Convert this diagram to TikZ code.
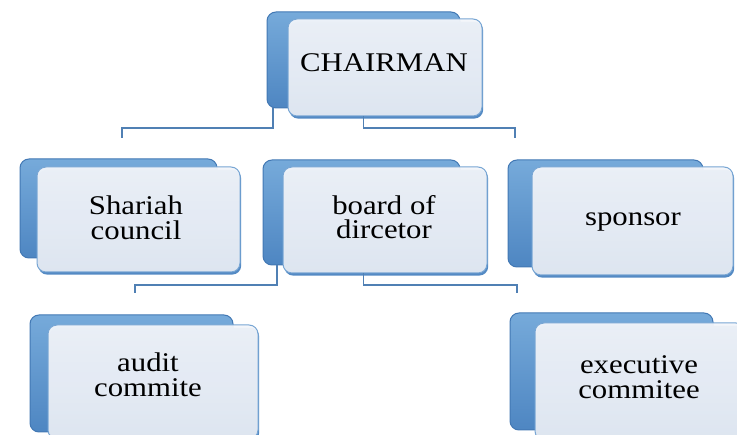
\documentclass[tikz,border=0pt]{standalone}
\usepackage{fontspec}
\setmainfont{Liberation Serif}[FakeStretch=1.14]
\usetikzlibrary{shadows}
\definecolor{backtop}{RGB}{118,170,218}
\definecolor{backbot}{RGB}{78,134,194}
\definecolor{backdraw}{RGB}{66,120,180}
\definecolor{fronttop}{RGB}{244,246,250}
\definecolor{frontbot}{RGB}{230,235,243}
\definecolor{frontdraw}{RGB}{120,166,212}
\definecolor{frontedge}{RGB}{84,138,196}
\definecolor{connc}{RGB}{80,128,180}
\tikzset{
  backbox/.style={rectangle, rounded corners=9pt, inner sep=0pt, outer sep=0pt,
    top color=backtop, bottom color=backbot, draw=backdraw, line width=1pt},
  frontbox/.style={rectangle, rounded corners=9pt, inner sep=0pt, outer sep=0pt,
    top color=fronttop, bottom color=frontbot, draw=frontdraw, line width=1pt,
    fill opacity=0.94,
    drop shadow={shadow xshift=1.2pt, shadow yshift=-2.6pt, fill=frontedge, opacity=1}},
  lbl/.style={inner sep=0pt, align=center, text=black,
    font=\fontsize{27}{24.5}\selectfont},
  conn/.style={draw=connc, line width=1.2pt}
}
\begin{document}
\begin{tikzpicture}[x=1pt,y=-1pt]
\useasboundingbox (0,0) rectangle (737,435);
\fill[white] (0,0) rectangle (737,435);
\clip (0,0) rectangle (737,435);
% CHAIRMAN
\node[backbox, minimum width=193pt, minimum height=96pt] (chB) at (363.5,60) {};
\node[frontbox, minimum width=194pt, minimum height=97pt] (chF) at (385,67.5) {};
\node[lbl] (chT) at (384,63) {CHAIRMAN};
% Shariah council
\node[backbox, minimum width=197pt, minimum height=99pt] (shB) at (118.5,208.5) {};
\node[frontbox, minimum width=203pt, minimum height=105pt] (shF) at (138.5,219.5) {};
\node[lbl] (shT) at (136,218) {Shariah\\council};
% board of dircetor
\node[backbox, minimum width=197pt, minimum height=105pt] (boB) at (361.5,212.5) {};
\node[frontbox, minimum width=204pt, minimum height=106pt] (boF) at (385,220) {};
\node[lbl] (boT) at (384,217) {board of\\dircetor};
% sponsor
\node[backbox, minimum width=195pt, minimum height=107pt] (spB) at (605.5,213.5) {};
\node[frontbox, minimum width=201pt, minimum height=108pt] (spF) at (632.5,221) {};
\node[lbl] (spT) at (633,222) {sponsor};
% audit commite
\node[backbox, minimum width=203pt, minimum height=117pt] (auB) at (131.5,373.5) {};
\node[frontbox, minimum width=210pt, minimum height=114pt] (auF) at (153,382) {};
\node[lbl] (auT) at (148,375) {audit\\commite};
% executive commitee
\node[backbox, minimum width=203pt, minimum height=117pt] (exB) at (611.5,371.5) {};
\node[frontbox, minimum width=210pt, minimum height=117pt] (exF) at (640,381.5) {};
\node[lbl] (exT) at (639,377) {executive\\commitee};
% connector end points
\coordinate (j1) at (122,128);
\coordinate (e1) at (122,138);
\coordinate (j2) at (515,128);
\coordinate (e2) at (515,138);
\coordinate (j3) at (135,285);
\coordinate (e3) at (135,293);
\coordinate (j4) at (517,285);
\coordinate (e4) at (517,293);
% connectors from CHAIRMAN
\draw[conn] ([xshift=6pt]chB.south west) |- (j1) -- (e1);
\draw[conn] (chF.south -| chB.south) |- (j2) -- (e2);
% connectors from board of dircetor
\draw[conn] ([xshift=14pt]boB.south west) |- (j3) -- (e3);
\draw[conn] (boF.south -| chB.south) |- (j4) -- (e4);
\end{tikzpicture}
\end{document}
